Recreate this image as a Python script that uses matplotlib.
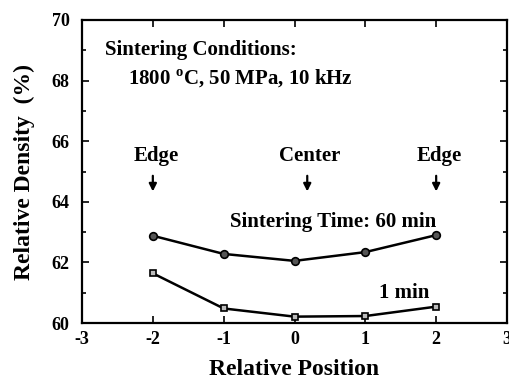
import numpy as np
import matplotlib.pyplot as plt
from matplotlib.ticker import MultipleLocator

plt.rcParams['font.family'] = ['Liberation Serif', 'DejaVu Serif']
plt.rcParams['font.weight'] = 'bold'
plt.rcParams['axes.unicode_minus'] = False

position = [-2, -1, 0, 1, 2]
density_60min = [62.88, 62.28, 62.05, 62.34, 62.90]
density_1min = [61.64, 60.48, 60.21, 60.23, 60.54]


def main():
    fig = plt.figure(figsize=(5.10, 3.81), dpi=100)
    ax = fig.add_axes([82 / 510, 1 - 323 / 381, 425 / 510, 303 / 381])

    ax.plot(position, density_60min, color='black', lw=1.8, marker='o',
            ms=5.5, mfc='#555555', mec='black', mew=1.2)
    ax.plot(position, density_1min, color='black', lw=1.8, marker='s',
            ms=5, mfc='#bbbbbb', mec='black', mew=1.2)

    ax.set_xlim(-3, 3)
    ax.set_ylim(60, 70)
    ax.xaxis.set_major_locator(MultipleLocator(1))
    ax.yaxis.set_major_locator(MultipleLocator(2))
    ax.yaxis.set_minor_locator(MultipleLocator(1))
    ax.tick_params(which='both', direction='in', top=True, right=True,
                   labelsize=13, width=1.2)
    ax.tick_params(which='major', length=5)
    ax.tick_params(which='minor', length=3)
    ax.tick_params(axis='y', pad=9)
    ax.tick_params(axis='x', pad=6)
    for s in ax.spines.values():
        s.set_linewidth(1.6)

    ax.set_xlabel('Relative Position', fontsize=17, fontweight='bold', labelpad=8)
    ax.set_ylabel('Relative Density  (%)', fontsize=17, fontweight='bold', labelpad=12)

    ax.text(-2.68, 69.0, 'Sintering Conditions:', fontsize=15, ha='left', va='center')
    ax.text(-2.35, 68.05, '1800 $^{\\mathregular{o}}$C, 50 MPa, 10 kHz', fontsize=15,
            ha='left', va='center')

    for x, xt, lab in [(-2, -1.95, 'Edge'), (0.18, 0.21, 'Center'), (2, 2.05, 'Edge')]:
        ax.text(xt, 65.5, lab, fontsize=15, ha='center', va='center')
        ax.annotate('', xy=(x, 64.25), xytext=(x, 64.95),
                    arrowprops=dict(arrowstyle='-|>', color='black', lw=1.6,
                                    mutation_scale=11))

    ax.text(0.54, 63.33, 'Sintering Time: 60 min', fontsize=15, ha='center', va='center')
    ax.text(1.91, 61.0, '1 min', fontsize=15, ha='right', va='center')

    fig.savefig('out.png', dpi=100)


if __name__ == '__main__':
    main()
